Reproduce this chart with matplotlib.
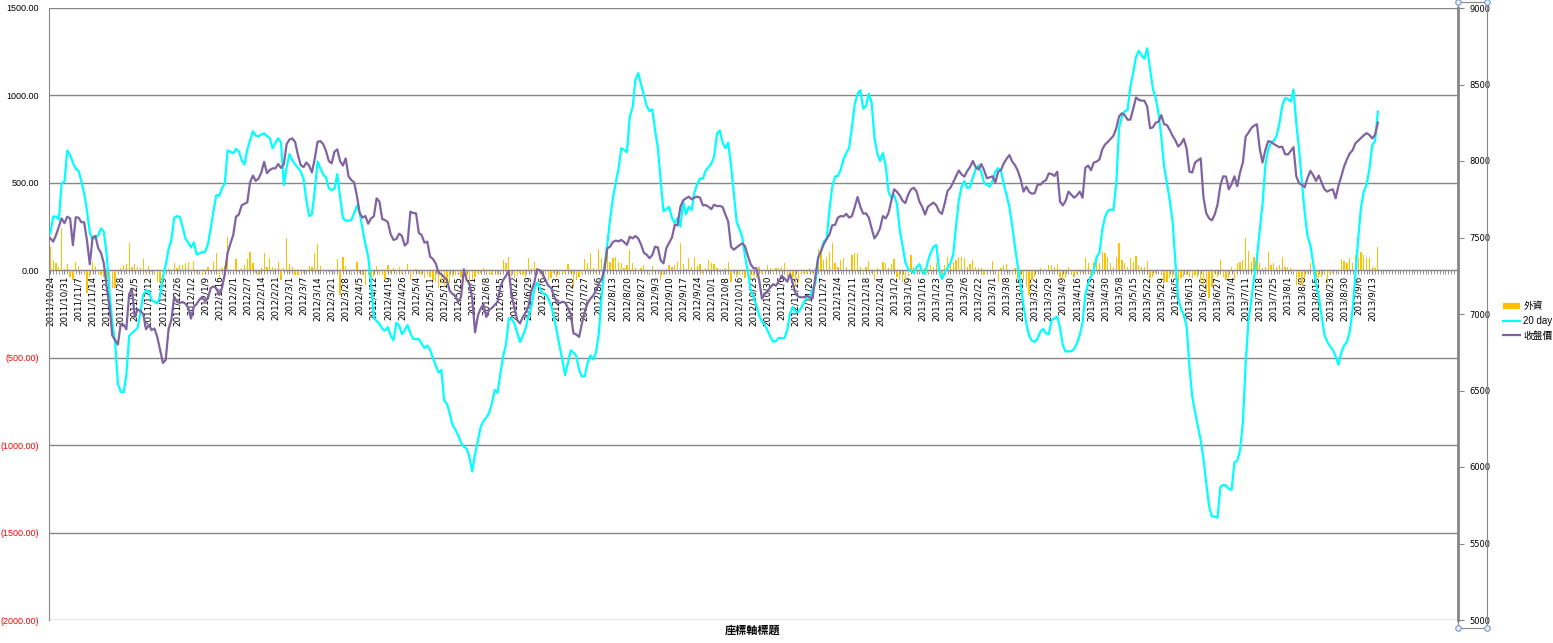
import matplotlib
matplotlib.use("Agg")
import matplotlib.pyplot as plt
import numpy as np
from matplotlib.lines import Line2D
from matplotlib.patches import Rectangle

plt.rcParams["font.family"] = ["DejaVu Sans", "Noto Sans CJK TC"]

# x-axis labels (every 5th trading day)
tick_dates = [
    "2011/10/24", "2011/10/31", "2011/11/7", "2011/11/14", "2011/11/21", "2011/11/28", "2011/12/5", "2011/12/12", "2011/12/19", "2011/12/26",
    "2012/1/2", "2012/1/9", "2012/1/16", "2012/2/1", "2012/2/7", "2012/2/14", "2012/2/21", "2012/3/1", "2012/3/7", "2012/3/14",
    "2012/3/21", "2012/3/28", "2012/4/5", "2012/4/12", "2012/4/19", "2012/4/26", "2012/5/4", "2012/5/11", "2012/5/18", "2012/5/25",
    "2012/6/1", "2012/6/8", "2012/6/15", "2012/6/22", "2012/6/29", "2012/7/6", "2012/7/13", "2012/7/20", "2012/7/27", "2012/8/6",
    "2012/8/13", "2012/8/20", "2012/8/27", "2012/9/3", "2012/9/10", "2012/9/17", "2012/9/24", "2012/10/1", "2012/10/8", "2012/10/16",
    "2012/10/23", "2012/10/30", "2012/11/6", "2012/11/13", "2012/11/20", "2012/11/27", "2012/12/4", "2012/12/11", "2012/12/18", "2012/12/24",
    "2013/1/2", "2013/1/9", "2013/1/16", "2013/1/23", "2013/1/30", "2013/2/6", "2013/2/22", "2013/3/1", "2013/3/8", "2013/3/15",
    "2013/3/22", "2013/3/29", "2013/4/9", "2013/4/16", "2013/4/23", "2013/4/30", "2013/5/8", "2013/5/15", "2013/5/22", "2013/5/29",
    "2013/6/5", "2013/6/13", "2013/6/20", "2013/6/27", "2013/7/4", "2013/7/11", "2013/7/18", "2013/7/25", "2013/8/1", "2013/8/8",
    "2013/8/15", "2013/8/23", "2013/8/30", "2013/9/6", "2013/9/13",
]

# 外資 daily net buy (left axis)
foreign = [
    135, 59, 40, 21, 240, 10, 36, -36, -55, 46,
    27, -8, -17, -128, -36, 50, 27, -17, -27, -36,
    -65, -84, -103, -103, -8, 11, 31, 36, 155, 21,
    36, 21, 11, 63, -17, 27, -8, -13, -65, -65,
    -8, 0, 15, -8, 40, 11, 31, 31, 40, 46,
    -8, 52, -17, -8, -27, -8, 21, -8, 46, 97,
    -46, 11, 27, 193, -8, -8, 63, -8, 11, 31,
    63, 107, 40, -13, -27, 11, 97, 17, 69, 21,
    11, 50, -55, 11, 183, 34, 21, -27, -27, 2,
    -17, 2, 27, 21, 97, 151, 27, -8, -8, -8,
    -8, 2, 63, -141, 78, 25, 2, -17, -8, 50,
    -17, -27, -84, -17, -36, -36, 27, -27, -27, -55,
    31, -17, 11, -17, 17, -17, 2, 36, -55, -17,
    6, -17, -27, -46, -17, -36, -55, -65, -103, -74,
    -93, -55, -74, -36, -27, -17, -36, -65, -36, -84,
    -55, -36, -17, -17, 11, -13, -17, -27, 2, -27,
    -17, 59, 40, 78, -32, -46, -27, -17, -27, -36,
    69, 11, 50, 11, -17, -36, -17, -55, -46, -17,
    -36, -27, -17, -17, 36, -17, -93, -55, -36, -17,
    63, 40, 97, 11, -17, 120, 69, 40, 202, 50,
    69, 78, 50, 40, 11, 31, 116, 40, 11, -8,
    11, 31, 2, -17, 25, 0, 2, -55, -27, 6,
    31, 21, 31, 50, 155, 36, 6, 69, 21, 78,
    25, 36, -17, 11, 59, 40, 36, 11, -8, 6,
    11, 50, -65, -17, -36, -27, -17, -46, -27, -55,
    -32, -46, 21, -17, 2, 31, 11, -17, 11, 11,
    21, 40, -36, -17, -36, -93, -65, -17, -17, -17,
    11, -17, 11, 120, 97, 59, 78, 107, 155, 40,
    21, 59, 69, 21, 2, 88, 101, 101, 21, -17,
    21, 55, -17, -55, 11, 2, 50, 40, 11, 36,
    63, -36, -55, -65, -55, -32, 88, 17, 0, -8,
    0, 11, -17, 31, 21, 40, -8, -17, 31, 78,
    50, 50, 59, 78, 74, 69, 17, 36, 59, 21,
    11, 11, -27, 2, 2, 53, -17, -65, 11, 31,
    36, 2, -17, 11, -55, -27, -55, -93, -141, -55,
    -36, -8, 11, 2, 2, 31, 31, 21, 36, -36,
    -55, -46, 17, -17, -36, -17, -8, -17, 69, 40,
    -36, 50, 50, 40, 107, 101, 78, 40, 21, 74,
    154, 59, 40, 21, 69, 50, 82, 30, 17, 21,
    53, -46, -36, -17, -8, -13, -65, -65, -46, -36,
    -36, -74, -46, -36, -27, -36, -46, -27, -36, -74,
    -84, -122, -160, -93, -17, -36, 59, -36, -55, -46,
    21, -55, 40, 50, 59, 183, 112, 50, 78, 78,
    40, 11, 21, 107, 30, 40, 21, 30, 78, 17,
    17, 11, -8, -84, -36, -84, -46, -17, 40, -17,
    -74, -46, -36, -17, -74, -17, -17, 0, -8, 63,
    53, 40, 72, 40, 88, 69, 107, 88, 78, 69,
    17, 11, 135,
]

# 20 day cumulative (left axis)
ma20 = [
    212, 307, 307, 290, 498, 507, 685, 660, 615, 580,
    570, 510, 440, 340, 215, 178, 188, 200, 240, 220,
    90, -120, -300, -410, -650, -695, -700, -600, -375, -358,
    -345, -330, -240, -140, -115, -122, -170, -180, -190, -150,
    -40, 30, 120, 172, 300, 310, 305, 250, 180, 160,
    130, 160, 90, 97, 105, 105, 150, 240, 340, 430,
    425, 470, 495, 685, 679, 668, 695, 680, 630, 605,
    689, 744, 795, 770, 765, 778, 783, 768, 756, 698,
    730, 755, 730, 488, 590, 665, 630, 606, 586, 566,
    525, 400, 310, 320, 460, 622, 583, 548, 530, 470,
    458, 468, 550, 420, 298, 284, 284, 288, 326, 370,
    326, 235, 150, 80, -74, -270, -290, -305, -335, -345,
    -325, -375, -400, -300, -315, -365, -342, -313, -360, -392,
    -395, -392, -418, -445, -430, -455, -500, -545, -585, -570,
    -745, -763, -820, -885, -912, -945, -985, -1009, -1019, -1070,
    -1150, -1050, -975, -895, -862, -843, -815, -760, -685, -700,
    -590, -490, -425, -275, -278, -305, -360, -410, -375, -330,
    -260, -210, -115, -70, -100, -132, -135, -160, -200, -265,
    -345, -430, -510, -600, -532, -458, -470, -490, -570, -608,
    -605, -530, -487, -510, -470, -361, -150, 20, 150, 290,
    412, 500, 580, 698, 689, 675, 880, 930, 1089, 1128,
    1065, 1000, 940, 910, 920, 800, 700, 510, 337, 350,
    362, 300, 269, 300, 250, 393, 320, 364, 345, 445,
    495, 525, 525, 570, 590, 610, 650, 780, 800, 730,
    698, 730, 600, 440, 280, 235, 190, 80, -10, -113,
    -150, -200, -255, -295, -310, -345, -380, -408, -405, -386,
    -388, -389, -340, -246, -210, -240, -237, -215, -180, -151,
    -158, -110, -74, 70, 110, 165, 180, 345, 479, 536,
    540, 575, 635, 670, 700, 820, 950, 1010, 1030, 925,
    940, 1010, 960, 760, 670, 625, 670, 600, 450, 415,
    430, 380, 230, 140, 45, 8, -5, -15, 18, 35,
    -10, -20, 50, 100, 135, 145, 0, -50, -15, 15,
    40, 90, 250, 400, 480, 510, 470, 475, 530, 580,
    600, 560, 500, 488, 479, 510, 565, 584, 570, 490,
    430, 360, 250, 130, 20, -80, -200, -303, -375, -403,
    -410, -390, -350, -335, -360, -365, -284, -275, -265, -330,
    -430, -465, -463, -463, -450, -417, -370, -300, -140, -74,
    -35, 0, 75, 100, 231, 305, 340, 348, 345, 500,
    815, 880, 910, 916, 1050, 1130, 1220, 1255, 1228, 1210,
    1270, 1150, 1040, 985, 900, 764, 592, 500, 400, 280,
    50, -155, -220, -255, -320, -550, -722, -810, -893, -970,
    -1080, -1220, -1351, -1408, -1408, -1415, -1240, -1227, -1230, -1250,
    -1256, -1098, -1090, -1030, -870, -531, -290, -170, -40, 70,
    230, 380, 600, 690, 730, 740, 770, 840, 940, 985,
    980, 964, 1034, 840, 690, 500, 330, 195, 145, 40,
    -70, -150, -260, -370, -408, -435, -455, -493, -540, -470,
    -430, -410, -351, -230, -30, 180, 360, 450, 490, 580,
    716, 740, 907,
]

# 收盤價 index close (right axis)
close = [
    7494, 7473, 7516, 7571, 7625, 7593, 7636, 7625, 7450, 7632,
    7630, 7600, 7600, 7480, 7325, 7500, 7510, 7430, 7400, 7330,
    7180, 7050, 6860, 6830, 6800, 6935, 6930, 6900, 7130, 7160,
    6980, 7030, 7020, 7000, 6900, 6928, 6895, 6905, 6850, 6765,
    6680, 6700, 6900, 6960, 7113, 7080, 7072, 7078, 7068, 7040,
    6970, 7048, 7065, 7095, 7110, 7085, 7100, 7170, 7180, 7168,
    7125, 7170, 7260, 7400, 7460, 7516, 7636, 7650, 7710, 7720,
    7730, 7860, 7905, 7870, 7885, 7925, 7995, 7920, 7941, 7952,
    7952, 7980, 7955, 7980, 8110, 8140, 8148, 8125, 8040, 7974,
    7960, 7990, 7970, 7925, 8017, 8126, 8130, 8110, 8065, 8000,
    7985, 8060, 8076, 8000, 7970, 8017, 7900, 7876, 7860, 7770,
    7658, 7630, 7640, 7590, 7625, 7638, 7756, 7734, 7620, 7614,
    7600, 7520, 7484, 7490, 7525, 7510, 7447, 7466, 7669, 7660,
    7658, 7530, 7516, 7466, 7473, 7375, 7360, 7331, 7270, 7260,
    7240, 7222, 7150, 7130, 7118, 7080, 7110, 7292, 7222, 7198,
    7100, 6880, 6990, 7037, 7062, 6980, 7026, 7040, 7059, 7080,
    7180, 7222, 7250, 7280, 7120, 7040, 6960, 6939, 6982, 7010,
    7050, 7150, 7200, 7290, 7287, 7262, 7225, 7185, 7172, 7120,
    7081, 7070, 7080, 7075, 7040, 7000, 6873, 6866, 6850, 6939,
    7015, 7070, 7100, 7120, 7155, 7200, 7225, 7290, 7429, 7440,
    7470, 7480, 7475, 7484, 7470, 7452, 7505, 7494, 7510, 7494,
    7455, 7400, 7388, 7365, 7385, 7440, 7435, 7350, 7331, 7430,
    7465, 7500, 7582, 7580, 7700, 7743, 7756, 7767, 7750, 7762,
    7767, 7760, 7710, 7712, 7701, 7685, 7715, 7705, 7706, 7700,
    7650, 7605, 7440, 7420, 7435, 7450, 7462, 7442, 7380, 7325,
    7300, 7298, 7225, 7100, 7130, 7150, 7175, 7195, 7185, 7215,
    7250, 7233, 7211, 7260, 7200, 7130, 7113, 7109, 7110, 7120,
    7108, 7102, 7244, 7370, 7410, 7458, 7490, 7520, 7580, 7582,
    7630, 7640, 7638, 7655, 7630, 7640, 7700, 7765, 7700, 7656,
    7658, 7630, 7560, 7494, 7520, 7560, 7640, 7625, 7660, 7740,
    7815, 7799, 7775, 7740, 7725, 7780, 7815, 7825, 7800, 7734,
    7700, 7650, 7701, 7715, 7728, 7710, 7670, 7654, 7723, 7805,
    7825, 7860, 7900, 7938, 7912, 7898, 7935, 7960, 8000, 7960,
    7945, 7980, 7940, 7887, 7893, 7900, 7860, 7930, 7941, 7985,
    8015, 8039, 7996, 7972, 7935, 7880, 7800, 7832, 7798, 7786,
    7790, 7845, 7845, 7865, 7875, 7919, 7915, 7902, 7930, 7734,
    7710, 7740, 7800, 7780, 7760, 7775, 7800, 7760, 7956, 7970,
    7940, 7990, 7996, 8010, 8075, 8108, 8125, 8145, 8165, 8214,
    8292, 8312, 8300, 8270, 8270, 8340, 8415, 8400, 8394, 8394,
    8355, 8214, 8220, 8250, 8257, 8300, 8240, 8235, 8203, 8165,
    8135, 8095, 8112, 8145, 8080, 7930, 7925, 7990, 8004, 8017,
    7760, 7658, 7625, 7612, 7650, 7715, 7840, 7900, 7898, 7815,
    7850, 7900, 7835, 7925, 7990, 8159, 8185, 8215, 8231, 8240,
    8080, 7990, 8072, 8130, 8125, 8111, 8100, 8090, 8094, 8045,
    8042, 8065, 8090, 7900, 7854, 7845, 7828, 7890, 7935, 7908,
    7870, 7905, 7860, 7815, 7800, 7810, 7815, 7756, 7840, 7900,
    7965, 8010, 8050, 8070, 8115, 8133, 8150, 8168, 8182, 8170,
    8148, 8170, 8251,
]

n_slots = 501  # category slots on the x axis (data fills the first part)
grey = "#868686"
narrow = ["Liberation Sans", "Noto Sans CJK TC"]

fig = plt.figure(figsize=(15.53, 6.43), dpi=100)
W, H = 1553, 643
ax = fig.add_axes([49 / W, 23 / H, 1409 / W, 612 / H])

# bars + 20 day line on the left axis
ax.bar(np.arange(len(foreign)), foreign, width=0.45, color="#FFC000", zorder=2)
ax.plot(np.arange(len(ma20)), ma20, color="#00FFFF", lw=1.6, zorder=3)

ax.set_xlim(-0.5, n_slots - 0.5)
ax.set_ylim(-2000, 1500)
yt = list(range(-2000, 1501, 500))
ax.set_yticks(yt)
ax.set_yticklabels([f"{v:.2f}" if v >= 0 else f"({-v:.2f})" for v in yt],
                   family=narrow)
for lbl, v in zip(ax.get_yticklabels(), yt):
    lbl.set_color("red" if v < 0 else "black")
ax.tick_params(axis="y", length=0, pad=7, labelsize=6.5)
ax.yaxis.grid(True, color=grey, lw=1)
ax.set_axisbelow(True)

# category axis crossing at zero
ax.spines["bottom"].set_position(("data", 0))
ax.spines["bottom"].set_color(grey)
ax.spines["left"].set_color(grey)
ax.spines["top"].set_visible(False)
ax.spines["right"].set_visible(False)
ax.set_xticks([5 * k for k in range(len(tick_dates))])
ax.set_xticklabels(tick_dates, rotation=90, ha="center", va="top")
ax.set_xticks(np.arange(n_slots), minor=True)
ax.tick_params(axis="x", which="both", direction="out", length=3, color=grey,
               pad=1, labelsize=6.3)

# closing price on the right axis
ax2 = ax.twinx()
ax2.plot(np.arange(len(close)), close, color="#8064A2", lw=1.6)
ax2.set_ylim(5000, 9000)
ax2.set_yticks(range(5000, 9001, 500))
ax2.tick_params(axis="y", length=4, color=grey, pad=4, labelsize=6)
for side in ["left", "top", "bottom"]:
    ax2.spines[side].set_visible(False)
ax2.spines["right"].set_color(grey)
ax2.spines["right"].set_linewidth(2)

# selected-axis frame with handles
fig.add_artist(Rectangle((1458 / W, 1 - 628 / H), 29 / W, 626 / H, transform=fig.transFigure,
                         fill=False, ec=grey, lw=0.8))
fig.add_artist(Line2D([1458 / W, 1487 / W, 1458 / W, 1487 / W],
                      [1 - 2 / H, 1 - 2 / H, 1 - 628 / H, 1 - 628 / H],
                      transform=fig.transFigure, ls="none", marker="o", markersize=4,
                      mfc="#E4ECF6", mec="#7A9CC6", mew=0.8))

handles = [Line2D([], [], color="#FFC000", lw=4.5, solid_capstyle="butt"),
           Line2D([], [], color="#00FFFF", lw=1.6),
           Line2D([], [], color="#8064A2", lw=1.6)]
fig.legend(handles, ["外資", "20 day", "收盤價"], loc="center left",
           bbox_to_anchor=(1498 / W, 1 - 321 / H), frameon=False,
           prop={"family": narrow, "size": 7},
           handlelength=1.8, handletextpad=0.3, labelspacing=0.5, borderpad=0)

fig.text(753 / W, 1 - 630 / H, "座標軸標題", ha="center", va="center",
         fontsize=8, fontweight="bold")

plt.savefig("out.png", dpi=100)
